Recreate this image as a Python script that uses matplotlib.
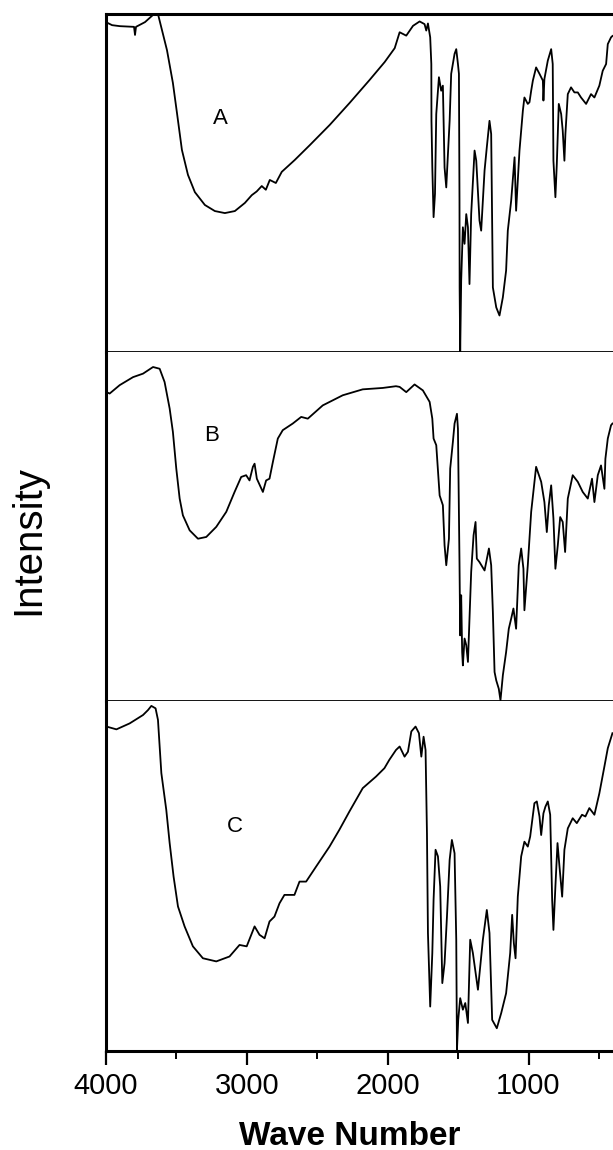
import matplotlib.pyplot as plt

plt.rcParams['font.family'] = ['Liberation Sans', 'DejaVu Sans']

# IR spectra (wavenumber in cm^-1, relative intensity 0-100)
wn_a = [4000, 3957, 3901, 3801, 3794, 3787, 3723, 3667, 3631, 3567, 3525, 3496,
        3461, 3418, 3369, 3298, 3227, 3156, 3085, 3014, 2965, 2930, 2894, 2865,
        2837, 2794, 2752, 2660, 2553, 2411, 2270, 2128, 2021, 1950, 1915,
        1868, 1820, 1773, 1738, 1726, 1714, 1698, 1690, 1689, 1683, 1674, 1664,
        1655, 1636, 1620, 1608, 1596, 1584, 1572, 1560, 1549, 1525, 1513, 1501,
        1494, 1490, 1489, 1485, 1478, 1466, 1454, 1442, 1430, 1419, 1407, 1383,
        1371, 1348, 1336, 1312, 1296, 1277, 1265, 1253, 1229, 1206, 1182, 1159,
        1147, 1123, 1099, 1088, 1076, 1064, 1040, 1029, 1005, 993, 981, 969,
        946, 922, 898, 894, 887, 863, 839, 828, 823, 809, 799, 785, 768, 757,
        745, 738, 721, 698, 674, 650, 627, 591, 556, 532, 497, 473, 449, 437,
        414, 404]
int_a = [97.6, 96.7, 96.4, 96.2, 93.8, 96.2, 97.6, 99.7, 100, 89.3, 79.6, 70.7,
         59.8, 52.4, 47.3, 43.5, 41.7, 41.1, 41.7, 44.1, 46.4, 47.5, 49.1, 48.0,
         50.9, 50.0, 53.3, 56.8, 61.2, 67.2, 73.7, 80.5, 85.8, 89.9, 94.6,
         93.6, 96.5, 97.8, 97.0, 95.1, 97.2, 93.1, 85.2, 68.4, 54.6, 39.9, 46.8,
         70.4, 81.3, 77.3, 78.8, 54.6, 48.7, 58.6, 68.4, 82.3, 88.2, 89.6, 85.2,
         82.3, 44.8, 19.1, 0.0, 21.1, 36.9, 32.0, 40.8, 36.9, 20.1, 40.8, 59.6,
         56.6, 38.9, 35.9, 53.7, 60.6, 68.4, 64.5, 19.1, 13.2, 10.8, 16.2, 24.1,
         35.9, 44.8, 57.6, 41.8, 50.7, 59.6, 71.4, 75.3, 73.4, 73.9, 77.3, 80.3,
         84.2, 82.3, 80.3, 74.4, 80.8, 86.2, 89.6, 85.2, 56.6, 45.8, 55.6, 73.4,
         70.4, 65.5, 56.6, 64.5, 76.3, 78.3, 76.8, 76.8, 75.3, 73.4, 76.3, 75.3,
         78.8, 83.2, 85.2, 91.1, 93.1, 93.5]

wn_b = [3997, 3974, 3903, 3808, 3737, 3666, 3619, 3584, 3548, 3525, 3501, 3477,
        3454, 3406, 3347, 3288, 3217, 3146, 3087, 3040, 3005, 2981, 2957, 2945,
        2929, 2886, 2863, 2839, 2815, 2780, 2745, 2674, 2614, 2567, 2461, 2319,
        2177, 2035, 1941, 1915,
        1868, 1809, 1750, 1702, 1683, 1674, 1655, 1631, 1608, 1596, 1584, 1565,
        1556, 1537, 1525, 1508, 1501, 1490, 1485, 1478, 1471, 1466, 1454, 1442,
        1430, 1419, 1407, 1390, 1376, 1367, 1348, 1312, 1281, 1265, 1253, 1241,
        1229, 1211, 1199, 1182, 1159, 1140, 1123, 1107, 1088, 1069, 1052, 1036,
        1029, 1005, 981, 946, 910, 887, 870, 856, 839, 823, 809, 792, 775, 757,
        740, 721, 686, 650, 615, 579, 549, 532, 508, 485, 461, 454, 437, 414,
        404]
int_b = [88.5, 88.1, 90.5, 92.8, 93.8, 95.7, 95.2, 91.4, 83.8, 77.1, 66.6, 58.0,
         53.2, 48.9, 46.5, 47.0, 49.9, 54.2, 59.9, 64.2, 64.7, 63.2, 67.1, 68.0,
         63.7, 59.9, 63.2, 63.7, 68.5, 75.2, 77.6, 79.5, 81.4, 80.9, 84.7, 87.6,
         89.3, 89.7, 90.2, 90.0,
         88.5, 90.7, 89.0, 85.7, 80.9, 75.2, 73.3, 58.9, 56.1, 44.6, 38.9, 46.5,
         66.6, 74.2, 79.5, 82.3, 78.0, 39.8, 18.8, 30.3, 14.0, 10.2, 17.9, 16.0,
         11.2, 23.6, 37.0, 47.5, 51.3, 40.8, 39.8, 37.4, 43.7, 38.9, 25.5, 8.3,
         5.9, 3.5, 0.2, 7.4, 14.0, 20.7, 23.6, 26.5, 20.7, 38.9, 43.7, 37.9,
         26.0, 38.9, 54.2, 67.1, 62.8, 57.0, 48.4, 56.1, 61.8, 52.3, 37.9, 44.6,
         52.7, 51.3, 42.7, 58.0, 64.7, 62.8, 59.9, 58.0, 63.7, 57.0, 64.7, 67.5,
         60.8, 69.4, 75.2, 79.0, 79.5]

wn_c = [3997, 3926, 3832, 3737, 3702, 3678, 3648, 3631, 3607, 3572, 3548, 3520,
        3489, 3442, 3383, 3312, 3217, 3123, 3052, 3001, 2945, 2910, 2874, 2839,
        2804, 2768, 2733, 2662, 2626, 2579, 2508, 2413, 2343, 2272, 2177, 2083,
        2023, 1988, 1941, 1915,
        1880, 1856, 1832, 1802, 1778, 1761, 1745, 1731, 1721, 1714, 1698, 1683,
        1674, 1660, 1643, 1627, 1612, 1596, 1579, 1560, 1544, 1525, 1513, 1508,
        1499, 1485, 1466, 1449, 1430, 1414, 1395, 1359, 1324, 1296, 1277, 1258,
        1225, 1194, 1159, 1130, 1116, 1104, 1092, 1076, 1052, 1029, 1005, 988,
        958, 941, 922, 910, 894, 880, 863, 846, 832, 823, 809, 794, 780, 761,
        745, 721, 686, 657, 620, 596, 568, 532, 497, 461, 437, 404]
int_c = [92.7, 91.9, 93.6, 96.0, 97.4, 98.6, 97.9, 94.6, 79.4, 68.9, 59.4, 49.8,
         41.3, 35.6, 29.9, 26.5, 25.6, 27.0, 30.3, 29.9, 35.6, 33.2, 32.2, 37.0,
         38.4, 42.2, 44.6, 44.6, 48.4, 48.4, 52.7, 58.4, 63.2, 68.4, 75.1, 78.4,
         80.8, 83.2, 86.0, 87.0,
         84.1, 85.5, 91.3, 92.7, 90.8, 84.1, 89.8, 86.0, 62.2, 33.7, 12.7, 28.0,
         43.2, 57.5, 55.6, 47.0, 19.4, 25.1, 38.4, 54.6, 60.3, 56.5, 31.8, 0.3,
         8.9, 15.1, 11.8, 13.7, 8.0, 31.8, 28.0, 17.5, 31.8, 40.3, 33.7, 8.9,
         6.5, 10.8, 16.5, 28.0, 38.9, 30.8, 26.5, 44.1, 55.6, 59.8, 58.4, 61.3,
         70.8, 71.3, 67.0, 61.7, 67.9, 69.8, 71.3, 67.5, 43.2, 34.6, 47.0, 59.4,
         52.7, 44.1, 57.5, 63.6, 66.5, 65.1, 67.5, 67.0, 69.4, 67.5, 73.6, 81.3,
         86.5, 90.8]

labels = ['A', 'B', 'C']
label_pos = [(3190, 69), (3248, 76), (3085, 64)]
major_ticks = [4000, 3000, 2000, 1000]
minor_ticks = [3500, 2500, 1500, 500]

fig = plt.figure(figsize=(6.13, 11.5), dpi=100)

# panel boxes in pixels (top, bottom) of a 613x1150 canvas
rows = [(14, 352), (352, 701), (701, 1051)]
spectra = [(wn_a, int_a), (wn_b, int_b), (wn_c, int_c)]
left = 106 / 613

axes = []
for i, (top, bot) in enumerate(rows):
    ax = fig.add_axes([left, 1 - bot / 1150, 1 - left, (bot - top) / 1150])
    wn, inten = spectra[i]
    ax.plot(wn, inten, color='black', linewidth=1.3)
    ax.set_xlim(4000, 400)
    ax.set_ylim(0, 100)
    ax.set_yticks([])
    ax.text(label_pos[i][0], label_pos[i][1], labels[i], fontsize=16,
            ha='center', va='center')
    ax.spines['left'].set_linewidth(2.2)
    ax.spines['right'].set_linewidth(0.6)
    ax.spines['right'].set_color('0.6')
    ax.spines['bottom'].set_linewidth(1.3)
    if i == 0:
        ax.spines['top'].set_linewidth(2.2)
    else:
        ax.spines['top'].set_visible(False)
    if i < 2:
        ax.set_xticks([])
    axes.append(ax)

ax = axes[2]
ax.spines['bottom'].set_linewidth(2.2)
ax.set_xticks(major_ticks)
ax.set_xticklabels([str(t) for t in major_ticks], fontsize=21)
ax.set_xticks(minor_ticks, minor=True)
ax.tick_params(axis='x', which='major', direction='out', length=10, width=1.6, pad=5)
ax.tick_params(axis='x', which='minor', direction='out', length=6, width=1.4)

fig.text(350 / 613, 1 - 1145 / 1150, 'Wave Number', fontsize=24,
         fontweight='bold', ha='center', va='baseline')
fig.text(28 / 613, 1 - 540 / 1150, 'Intensity', fontsize=29,
         rotation=90, ha='center', va='center')

plt.savefig('out.png', dpi=100)
